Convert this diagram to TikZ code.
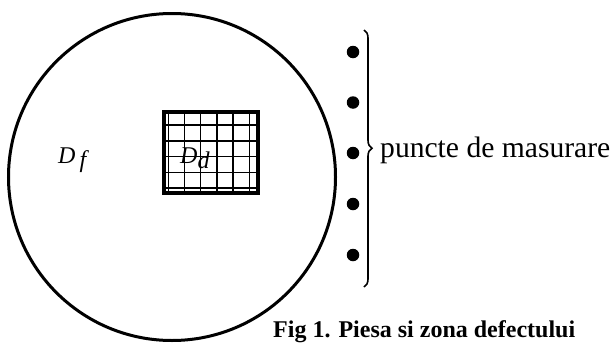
\documentclass[tikz,border=0pt]{standalone}
\usepackage{fontspec}
\setmainfont{Liberation Serif}
\usepackage{tikz}
\usetikzlibrary{
  positioning,
  decorations.pathreplacing
}
\tikzset{
  piece/.style={
    circle, draw=black, line width=3pt, inner sep=0pt,
    minimum size=327pt
  },
  point/.style={
    circle, fill=black, inner sep=0pt, minimum size=12.5pt
  },
  gridline/.style={line width=1.5pt},
  border/.style={line width=4.5pt},
  brace/.style={decorate, decoration={brace, amplitude=8pt, aspect=0.46}, line width=1.6pt},
  symbol/.style={font=\fontsize{24}{26}\selectfont\itshape, inner sep=0pt},
}

\begin{document}
\begin{tikzpicture}[x=1pt, y=-1pt]
\useasboundingbox (0,0) rectangle (613,343);
\clip (0,0) rectangle (613,343);

% Piece (circle) with defect zone
\node[piece] (disc) at (172,177) {};
\foreach \i in {0,...,5}
  \draw[gridline] (168.3+16.2*\i,111) -- (168.3+16.2*\i,194);
\foreach \j in {0,...,4}
  \draw[gridline] (163,125+15.8*\j) -- (259,125+15.8*\j);
\draw[border] (163.8,111.8) rectangle (258.2,193.2);

% Labels
\node[symbol, anchor=base west] (df) at (58,163) {D\,\raisebox{-4pt}{f}};
\node[symbol, anchor=base west] (dd) at (180,163) {D\raisebox{-5pt}{d}};

% Measuring points
\foreach \k/\y in {1/52,2/102.5,3/153,4/204,5/255}
  \node[point] (p\k) at (353,\y) {};

% Brace and its text
\coordinate (btop) at (364,30);
\coordinate (bbot) at (364,287);
\draw[brace] (btop) -- (bbot);
\node[anchor=base west, font=\fontsize{29.6}{32}\selectfont, inner sep=0pt] (meas) at (380,157) {puncte de masurare};

% Caption
\node[anchor=base west, font=\fontsize{24}{26}\selectfont\bfseries, inner sep=0pt] (caption) at (273,337) {Fig 1. Piesa si zona defectului};

\end{tikzpicture}
\end{document}
